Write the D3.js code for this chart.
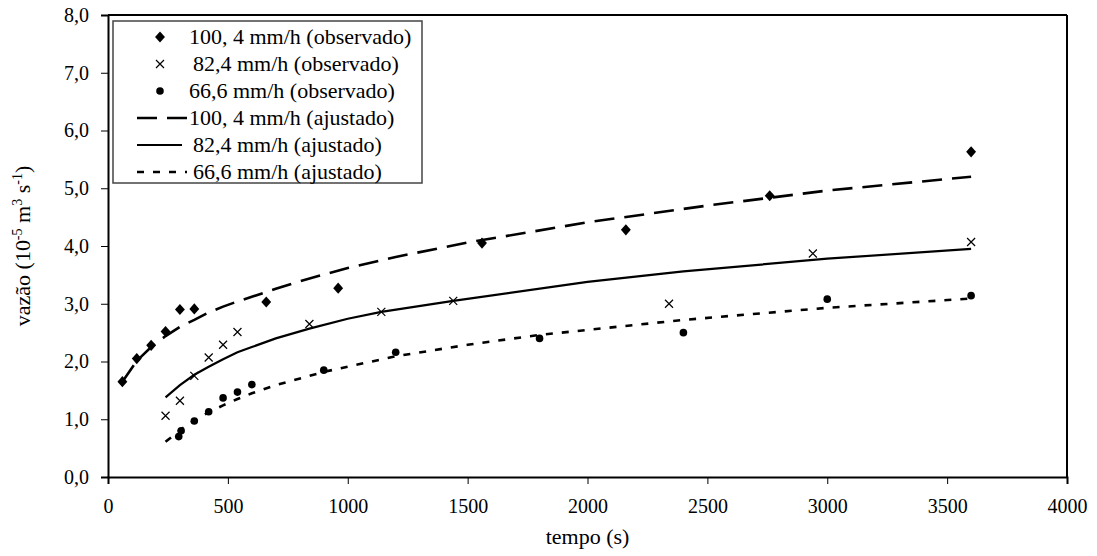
<!DOCTYPE html>
<html><head><meta charset="utf-8">
<script src="https://cdn.jsdelivr.net/npm/d3@7"></script>
<style>
body{margin:0;background:#fff}
text{font-family:"Liberation Serif","Times New Roman",serif;fill:#000}
</style>
</head><body>
<svg id="c" width="1097" height="556"></svg>
<script>
// ---- data ----
const xTicks = [0,500,1000,1500,2000,2500,3000,3500,4000];
const yTicks = [0,1,2,3,4,5,6,7,8];
const legendLabels = [
  "100, 4 mm/h (observado)",
  "82,4 mm/h (observado)",
  "66,6 mm/h (observado)",
  "100, 4 mm/h (ajustado)",
  "82,4 mm/h (ajustado)",
  "66,6 mm/h (ajustado)"
];
// observed 100,4 mm/h
const obsA_t = [60,120,180,240,300,360,660,960,1560,2160,2760,3600];
const obsA_q = [1.65,2.05,2.28,2.52,2.90,2.91,3.03,3.27,4.05,4.28,4.87,5.63];
// observed 82,4 mm/h
const obsB_t = [240,300,360,420,480,540,840,1140,1440,2340,2940,3600];
const obsB_q = [1.06,1.32,1.75,2.07,2.29,2.51,2.65,2.86,3.05,3.00,3.87,4.07];
// observed 66,6 mm/h
const obsC_t = [295,305,360,420,480,540,600,900,1200,1800,2400,3000,3600];
const obsC_q = [0.70,0.80,0.97,1.13,1.37,1.47,1.60,1.85,2.16,2.40,2.50,3.08,3.14];
// fitted 100,4 mm/h
const fitA_t = [60,120,180,240,300,360,420,480,540,600,700,800,1000,1200,1500,2000,2500,3000,3600];
const fitA_q = [1.65,2.01,2.25,2.44,2.60,2.72,2.85,2.95,3.04,3.12,3.26,3.39,3.62,3.81,4.06,4.41,4.70,4.96,5.20];
// fitted 82,4 mm/h
const fitB_t = [240,300,360,420,480,540,600,700,840,1000,1140,1440,2000,2400,3000,3600];
const fitB_q = [1.38,1.59,1.77,1.91,2.04,2.16,2.25,2.40,2.57,2.74,2.86,3.05,3.38,3.56,3.78,3.95];
// fitted 66,6 mm/h
const fitC_t = [240,300,360,420,480,540,600,700,900,1200,1500,1800,2400,3000,3600];
const fitC_q = [0.61,0.81,0.98,1.12,1.24,1.35,1.45,1.59,1.82,2.09,2.29,2.46,2.72,2.93,3.09];

// ---- chart ----
const svg = d3.select("#c");
const L = 108, R = 1067, T = 15, B = 477;
const x = d3.scaleLinear().domain([0,4000]).range([L,R]);
const y = d3.scaleLinear().domain([0,8]).range([B,T]);
const fmt = v => d3.format(".1f")(v).replace(".", ",");

// frame (top & right)
svg.append("line").attr("x1",L).attr("x2",R).attr("y1",T).attr("y2",T).attr("stroke","#000").attr("stroke-width",2);
svg.append("line").attr("x1",R).attr("x2",R).attr("y1",T).attr("y2",B).attr("stroke","#000").attr("stroke-width",2);

// axes
const xa = svg.append("g").attr("transform",`translate(0,${B})`)
  .call(d3.axisBottom(x).tickValues(xTicks).tickSize(7).tickPadding(15).tickFormat(d3.format("d")));
const ya = svg.append("g").attr("transform",`translate(${L},0)`)
  .call(d3.axisLeft(y).tickValues(yTicks).tickSize(7).tickPadding(12).tickFormat(fmt));
[xa,ya].forEach(g=>{
  g.select(".domain").attr("stroke","#000").attr("stroke-width",2);
  g.selectAll(".tick line").attr("stroke","#000").attr("stroke-width",1);
  g.selectAll("text").attr("font-size",20).attr("font-family","Liberation Serif");
});

// axis titles
svg.append("text").attr("x",(L+R)/2).attr("y",544).attr("text-anchor","middle")
  .attr("font-size",22).text("tempo (s)");
const yt = svg.append("text").attr("transform",`translate(30,${(T+B)/2}) rotate(-90)`)
  .attr("text-anchor","middle").attr("font-size",22);
yt.append("tspan").text("vazão (10");
yt.append("tspan").attr("dy",-8).attr("font-size",14).text("-5");
yt.append("tspan").attr("dy",8).text(" m");
yt.append("tspan").attr("dy",-8).attr("font-size",14).text("3");
yt.append("tspan").attr("dy",8).text(" s");
yt.append("tspan").attr("dy",-8).attr("font-size",14).text("-1");
yt.append("tspan").attr("dy",8).text(")");

// fitted lines
const line = d3.line().x(d=>x(d[0])).y(d=>y(d[1]));
const fits = [
  {t:fitA_t,q:fitA_q,dash:"20,10",w:2.6},
  {t:fitB_t,q:fitB_q,dash:null,w:2.2},
  {t:fitC_t,q:fitC_q,dash:"7,9",w:2.6}
];
fits.forEach(f=>{
  svg.append("path").datum(d3.zip(f.t,f.q)).attr("d",line)
    .attr("fill","none").attr("stroke","#000").attr("stroke-width",f.w)
    .attr("stroke-dasharray",f.dash);
});

// markers
const diamond = d3.symbol().type(d3.symbolDiamond).size(50);
const drawDiamond = (g,cx,cy)=>g.append("path").attr("d",diamond()).attr("transform",`translate(${cx},${cy}) scale(1.3,0.85)`).attr("fill","#000");
const drawCross = (g,cx,cy)=>g.append("path").attr("d","M-4,-4L4,4M-4,4L4,-4").attr("transform",`translate(${cx},${cy})`).attr("stroke","#000").attr("stroke-width",1.2).attr("fill","none");
const drawCircle = (g,cx,cy)=>g.append("circle").attr("cx",cx).attr("cy",cy).attr("r",3.8).attr("fill","#000");

const gm = svg.append("g");
d3.zip(obsA_t,obsA_q).forEach(d=>drawDiamond(gm,x(d[0]),y(d[1])));
d3.zip(obsB_t,obsB_q).forEach(d=>drawCross(gm,x(d[0]),y(d[1])));
d3.zip(obsC_t,obsC_q).forEach(d=>drawCircle(gm,x(d[0]),y(d[1])));

// legend
const lg = svg.append("g");
lg.append("rect").attr("x",113).attr("y",21).attr("width",309).attr("height",162)
  .attr("fill","#fff").attr("stroke","#444").attr("stroke-width",1.5);
const rowY = i => 37 + i*27;
const markers = [drawDiamond, drawCross, drawCircle];
legendLabels.forEach((lab,i)=>{
  const cy = rowY(i);
  if(i<3){ markers[i](lg,160,cy); }
  else {
    const f = fits[i-3];
    lg.append("line").attr("x1",137).attr("x2",i===4?182:187).attr("y1",cy).attr("y2",cy)
      .attr("stroke","#000").attr("stroke-width",f.w).attr("stroke-dasharray",f.dash);
  }
  lg.append("text").attr("x",i===1||i===4||i===5?193:189).attr("y",cy).attr("dy","0.33em").attr("font-size",22).text(lab);
});
</script>
</body></html>
